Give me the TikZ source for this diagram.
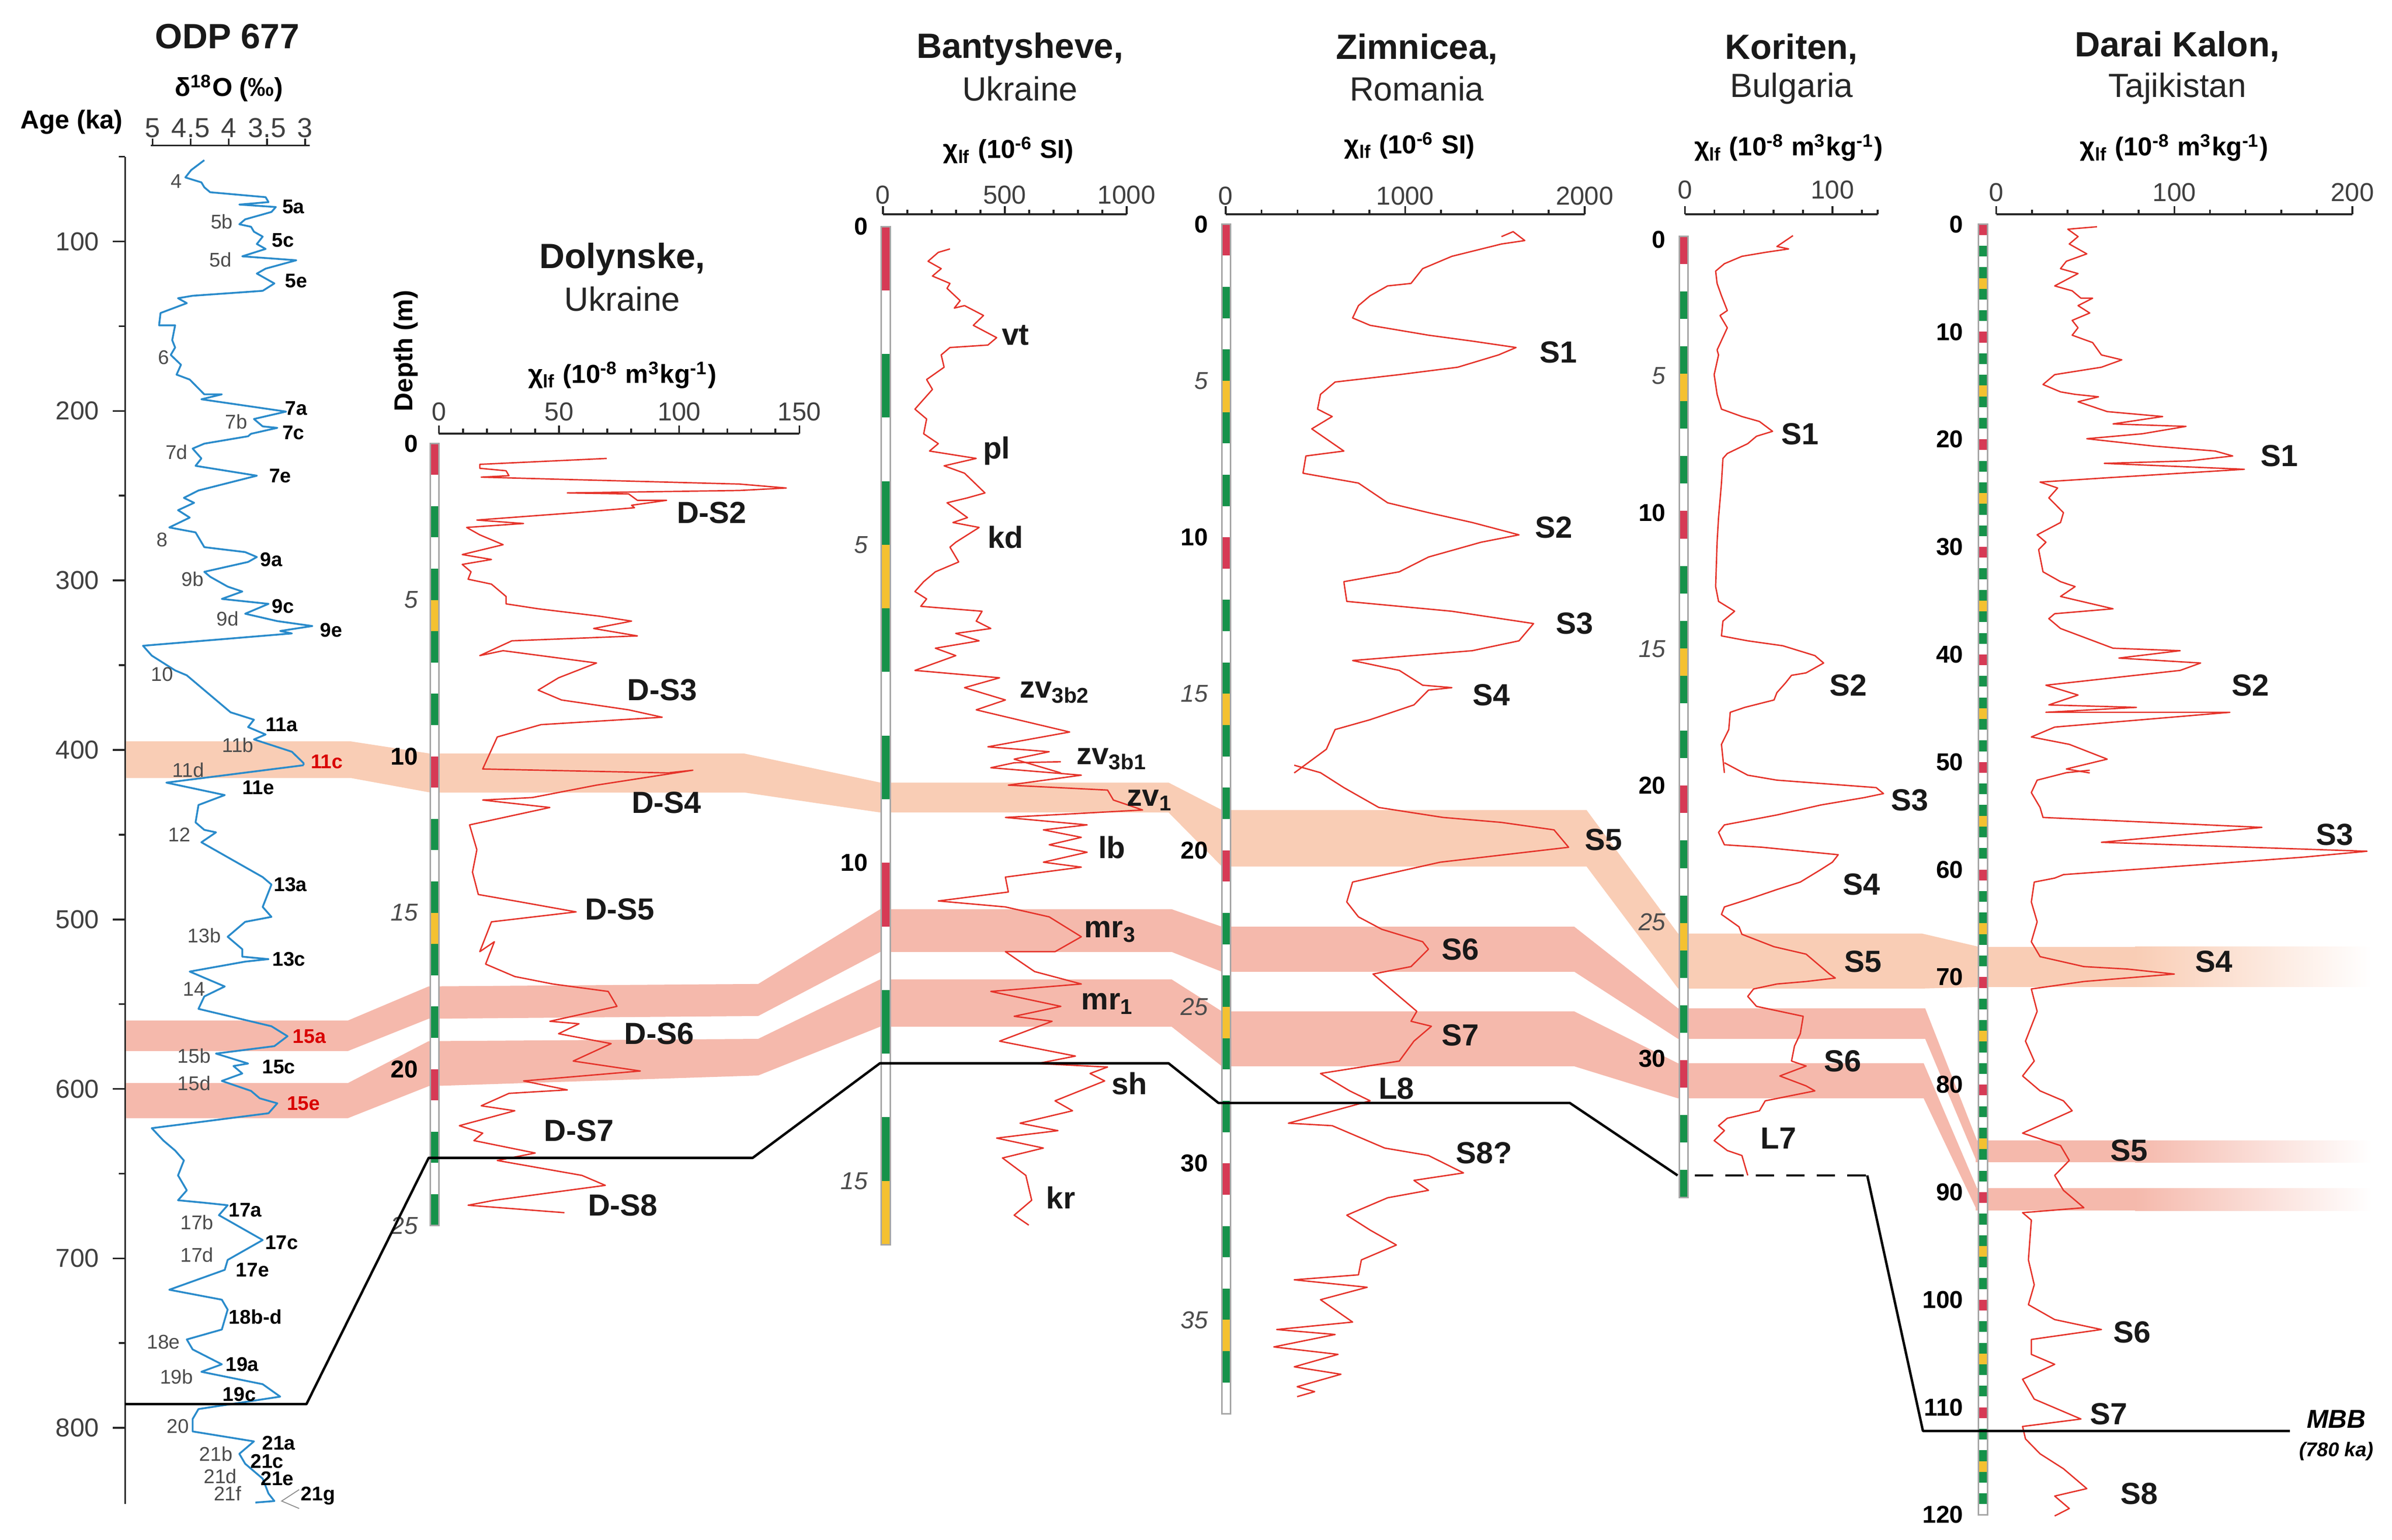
\documentclass[tikz,border=0pt]{standalone}
\usepackage{fontspec}
\setmainfont{Liberation Sans}
\definecolor{colR}{HTML}{D63A55}
\definecolor{colG}{HTML}{16924A}
\definecolor{colY}{HTML}{F4C131}
\definecolor{bandA}{HTML}{F9CDB5}
\definecolor{bandB}{HTML}{F5B9AC}
\definecolor{curveR}{HTML}{E5332A}
\definecolor{curveB}{HTML}{2A8BCB}
\newcommand\stratcol[5]{% xleft, width, ytop, per unit, N
  \foreach \i in {1,...,#5}{%
    \pgfmathtruncatemacro\m{mod(\i-1,10)}%
    \edef\cc{\ifcase\m colR\or white\or colG\or white\or colG\or colY\or colG\or white\or colG\or white\fi}%
    \fill[\cc] (#1,{#3+(\i-1)*#4}) rectangle ({#1+#2},{#3+\i*#4});}
  \draw[black!35,line width=0.5pt] (#1,#3) rectangle ({#1+#2},{#3+#5*#4});}
\begin{document}
\begin{tikzpicture}[x=0.5pt,y=-0.5pt,
  ttl/.style={font=\fontsize{11.5}{13}\selectfont\bfseries,text=black!90},
  sub/.style={font=\fontsize{11}{13}\selectfont,text=black!85},
  unit/.style={font=\fontsize{8.5}{10}\selectfont\bfseries},
  tk/.style={font=\fontsize{8.5}{10}\selectfont,text=black!75},
  dep/.style={font=\fontsize{8}{10}\selectfont\bfseries,anchor=east},
  depi/.style={font=\fontsize{8}{10}\selectfont\itshape,anchor=east,text=black!70},
  sl/.style={font=\fontsize{10}{12}\selectfont\bfseries,text=black!90},
  st/.style={font=\fontsize{6.5}{8}\selectfont,text=black!70},
  stb/.style={font=\fontsize{6.5}{8}\selectfont\bfseries},
  stbr/.style={font=\fontsize{6.5}{8}\selectfont\bfseries,text=red!85!black},
  rc/.style={draw=curveR,line width=0.45pt,line join=round},
  bc/.style={draw=curveB,line width=0.6pt,line join=round},
  ax/.style={draw=black!85,line width=0.6pt},
  mbb/.style={draw=black,line width=0.8pt}]
\useasboundingbox[fill=white] (0,0) rectangle (1568,1009.5);

% ---------------- bands ----------------
\fill[bandA] (82,486)--(230,486)--(282,494)--(488,494)--(577,513)--(766,513)--(801,531)--(1040,531)--(1100,612)--(1260,612)--(1297,620.6)--(1297,647)--(1260,648)--(1100,648)--(1040,568)--(801,568)--(766,532.6)--(577,532.6)--(488,519.5)--(282,519.5)--(230,510)--(82,510)--cycle;
\fill[bandA] (1296,620.6) rectangle (1400,647);
\shade[left color=bandA,right color=white] (1399.5,620.6) rectangle (1555,647);
\fill[bandB] (82,669)--(228,669)--(281,646.6)--(497,645)--(577,596)--(768,596)--(801,607.5)--(1032,607.5)--(1100,661)--(1262,661)--(1296,747.7)--(1296,762)--(1262,681)--(1100,681)--(1032,637)--(801,637)--(768,624)--(577,624)--(497,666)--(281,667.8)--(228,689)--(82,689)--cycle;
\fill[bandB] (1295,747.7) rectangle (1400,762);
\shade[left color=bandB,right color=white] (1399.5,747.7) rectangle (1555,762);
\fill[bandB] (82,710)--(228,710)--(281,682.5)--(497,681)--(577,642)--(768,642)--(801,663)--(1032,663)--(1100,697)--(1261,697)--(1296,779)--(1296,793.6)--(1261,720)--(1100,720)--(1032,699)--(801,699)--(768,673)--(577,673)--(497,705)--(281,712)--(228,733)--(82,733)--cycle;
\fill[bandB] (1295,779) rectangle (1400,793.6);
\shade[left color=bandB,right color=white] (1399.5,779) rectangle (1555,793.6);

% ---------------- strat columns ----------------
\stratcol{282}{5.8}{290.8}{20.5}{25}
\stratcol{577.7}{5.8}{148.6}{41.7}{16}
\stratcol{800.9}{5.8}{147}{20.52}{38}
\stratcol{1100.7}{5.8}{155}{18.0}{35}
\stratcol{1297}{5.8}{147}{7.05}{120}

% depth labels
\node[rotate=90,unit] (dlab) at (266,230) {Depth (m)};
\foreach \d in {0,10,20} \node[dep] (dd\d) at (281,{290.8+20.5*\d}) {\d};
\foreach \d in {5,15,25} \node[depi] (dd\d) at (281,{290.8+20.5*\d}) {\d};
\foreach \d in {0,10} \node[dep] (db\d) at (576,{148.6+41.7*\d}) {\d};
\foreach \d in {5,15} \node[depi] (db\d) at (576,{148.6+41.7*\d}) {\d};
\foreach \d in {0,10,20,30} \node[dep] (dz\d) at (799,{147+20.52*\d}) {\d};
\foreach \d in {5,15,25,35} \node[depi] (dz\d) at (799,{147+20.52*\d}) {\d};
\foreach \d in {0,10,20,30} \node[dep] (dk\d) at (1099,{157+17.9*\d}) {\d};
\foreach \d in {5,15,25} \node[depi] (dk\d) at (1099,{157+17.9*\d}) {\d};
\foreach \d in {0,10,...,120} \node[dep] (dr\d) at (1294,{147+7.05*\d}) {\d};

% ---------------- ODP 677 axes ----------------
\node[ttl] (t1) at (149,24) {ODP 677};
\node[unit] (u1) at (150,58) {δ\textsuperscript{18}O (‰)};
\node[unit] (agel) at (47,80) {Age (ka)};
\draw[ax] (99,95.3)--(203,95.3);
\foreach \x/\l in {100/5,125/4.5,150/4,175/3.5,200/3} {\draw[ax] (\x,95.3)--(\x,91); \node[tk,font=\fontsize{9}{10}\selectfont] (o\x) at (\x,84) {\l};}
\draw[ax] (82,103)--(82,985.7);
\foreach \a in {100,200,...,800} {\draw[ax] (82,{47.2+1.111*\a})--(74,{47.2+1.111*\a}); \node[tk,anchor=east] (ag\a) at (72,{47.2+1.111*\a}) {\a};}
\foreach \a in {50,150,...,750} \draw[ax] (82,{47.2+1.111*\a})--(78,{47.2+1.111*\a});

% ODP curve & labels (zoom 1 coordinates)
\begin{scope}[shift={(0,0)},xscale=0.19133,yscale=0.32313]
\draw[bc] plot coordinates {(700,325) (655,345) (635,360) (690,370) (700,380) (720,390) (910,400) (920,410) (820,415) (945,420) (930,430) (840,445) (820,455) (860,460) (870,470) (900,480) (880,495) (910,505) (830,520) (1015,528) (910,545) (880,555) (940,575) (900,590) (660,600) (610,605) (640,615) (550,635) (545,660) (600,660) (590,690) (600,705) (585,720) (620,740) (605,760) (650,770) (700,800) (760,800) (690,810) (980,835) (870,850) (900,865) (950,868) (860,880) (850,885) (700,900) (660,910) (690,930) (670,945) (880,965) (680,995) (630,1010) (665,1020) (610,1035) (650,1050) (580,1070) (670,1080) (700,1110) (840,1120) (880,1130) (850,1140) (700,1160) (720,1170) (780,1190) (830,1200) (760,1215) (920,1225) (840,1245) (950,1260) (1070,1270) (960,1280) (1000,1285) (490,1310) (520,1330) (600,1360) (640,1370) (700,1400) (760,1430) (790,1445) (870,1460) (850,1475) (910,1490) (870,1500) (1000,1525) (1040,1548) (1040,1552)};
\foreach \t/\x/\y in {4/605/368,5b/760/450,5d/755/527,6/560/725,7b/810/855,7d/605/917,8/555/1095,9b/660/1175,9d/780/1255,10/555/1368,11b/815/1512}
  \node[st] (sa\t) at (\x,\y) {\t};
\foreach \t/\x/\y in {5a/1005/420,5c/970/487,5e/1015/570,7a/1015/828,7c/1005/878,7e/960/965,9a/930/1135,9c/970/1230,9e/1135/1278,11a/965/1470}
  \node[stb] (sb\t) at (\x,\y) {\t};
\node[stbr] (s11c) at (1120,1545) {11c};
\end{scope}
\begin{scope}[shift={(0,500)},xscale=0.19133,yscale=0.32589]
\draw[bc] plot coordinates {(1040,5) (570,40) (770,65) (680,85) (670,120) (700,135) (740,140) (690,160) (750,180) (900,230) (930,245) (900,290) (930,310) (840,320) (780,350) (830,375) (830,390) (920,395) (840,400) (650,420) (770,450) (700,470) (680,495) (930,530) (985,550) (940,570) (740,585) (850,605) (800,610) (830,625) (760,640) (860,660) (890,675) (950,685) (920,705) (520,735) (560,760) (600,780) (630,800) (610,830) (640,860) (610,880) (700,885) (780,890) (750,910) (840,940) (900,960) (780,1000) (770,1020) (580,1060) (760,1080) (780,1100) (760,1140) (640,1160) (660,1180) (760,1210) (690,1225) (900,1250) (960,1275) (680,1300) (660,1320) (660,1345) (870,1365) (820,1390) (840,1410) (900,1440) (920,1470) (940,1485) (875,1488)};
\foreach \t/\x/\y in {11d/645/15,12/615/145,13b/700/348,14/665/455,15b/665/590,15d/665/645,17b/675/925,17d/675/990,18e/560/1165,19b/605/1235,20/610/1335,21b/740/1390,21d/755/1435,21f/780/1470}
  \node[st] (sa\t) at (\x,\y) {\t};
\foreach \t/\x/\y in {11e/885/50,13a/995/245,13c/990/395,15c/955/612,17a/840/900,17c/965/965,17e/865/1020,18b-d/875/1115,19a/830/1210,19c/820/1270,21a/955/1368,21c/915/1405,21e/950/1440,21g/1090/1475}
  \node[stb] (sb\t) at (\x,\y) {\t};
\node[stbr] (s15a) at (1060,550) {15a};
\node[stbr] (s15e) at (1040,685) {15e};
\draw[black!45,line width=0.3pt] (1025,1462)--(965,1485)--(1025,1500);
\end{scope}

% ---------------- Dolynske ----------------
\node[ttl] (t2) at (408,170) {Dolynske,};
\node[sub] (c2) at (408,196) {Ukraine};
\node[unit] (u2) at (408,246) {χ\textsubscript{lf} (10\textsuperscript{-8} m\textsuperscript{3}kg\textsuperscript{-1})};
\draw[ax] (287.7,284.3)--(524,284.3);
\foreach \v in {0,10,...,150} \draw[ax] ({287.7+1.5753*\v},284.3)--({287.7+1.5753*\v},281);
\foreach \v in {0,50,100,150} {\draw[ax] ({287.7+1.5753*\v},284.3)--({287.7+1.5753*\v},279); \node[tk] (dx\v) at ({287.7+1.5753*\v},270) {\v};}
\begin{scope}[shift={(266.667,0)},xscale=0.19133,yscale=0.32313]
\draw[rc] plot coordinates {(685,930) (250,942) (250,950) (340,955) (350,965) (255,968) (1140,982) (1300,990) (1140,995) (550,1000) (760,1002) (790,1015) (890,1015) (770,1025) (780,1030) (580,1040) (240,1055) (400,1062) (205,1070) (250,1085) (330,1105) (190,1125) (290,1135) (190,1145) (220,1160) (210,1175) (290,1185) (340,1210) (340,1225) (450,1235) (660,1250) (770,1260) (640,1275) (790,1290) (360,1300) (250,1330) (330,1320) (650,1345) (520,1375) (450,1400) (530,1420) (760,1440) (875,1455) (460,1470) (310,1495) (260,1560) (900,1568)};
\node[sl] (ds2) at (1045,1040) {D-S2};
\node[sl] (ds3) at (875,1400) {D-S3};
\end{scope}
\begin{scope}[shift={(266.667,500)},xscale=0.19133,yscale=0.32589]
\draw[rc] plot coordinates {(900,20) (980,15) (650,45) (430,70) (260,75) (490,90) (215,125) (240,175) (225,220) (245,265) (390,280) (580,300) (290,320) (250,380) (300,360) (270,405) (370,430) (500,445) (690,460) (720,490) (490,520) (590,525) (520,545) (700,565) (570,600) (800,620) (400,640) (550,658) (350,665) (255,690) (370,700) (180,730) (260,745) (230,760) (440,785) (310,800) (600,830) (680,850) (300,880) (210,890) (540,905)};
\node[sl] (ds4) at (890,80) {D-S4};
\node[sl] (ds5) at (730,295) {D-S5};
\node[sl] (ds6) at (865,545) {D-S6};
\node[sl] (ds7) at (590,740) {D-S7};
\node[sl] (ds8) at (740,890) {D-S8};
\end{scope}

% ---------------- Bantysheve ----------------
\begin{scope}[shift={(550,0)},xscale=0.19133,yscale=0.32313]
\node[ttl] (t3) at (620,100) {Bantysheve,};
\node[sub] (c3) at (620,180) {Ukraine};
\node[unit] (u3) at (580,305) {χ\textsubscript{lf} (10\textsuperscript{-6} SI)};
\draw[ax] (150,435)--(985,435);
\foreach \v in {0,100,...,1000} \draw[ax] ({150+0.835*\v},435)--({150+0.835*\v},425);
\foreach \v in {0,500,1000} {\draw[ax] ({150+0.835*\v},435)--({150+0.835*\v},418); \node[tk] (bx\v) at ({150+0.835*\v},395) {\v};}
\draw[rc] plot coordinates {(380,505) (340,512) (305,530) (350,545) (320,560) (380,575) (370,585) (415,610) (395,625) (430,620) (495,640) (460,660) (540,685) (510,700) (380,705) (350,720) (360,745) (300,770) (320,790) (260,830) (300,850) (290,880) (340,900) (310,915) (470,930) (360,945) (430,960) (500,1000) (440,1010) (370,1020) (440,1050) (390,1060) (480,1070) (400,1100) (380,1110) (410,1140) (330,1160) (290,1180) (260,1200) (300,1215) (280,1230) (490,1240) (470,1260) (520,1275) (400,1285) (480,1300) (330,1315) (400,1330) (260,1360) (550,1375) (430,1395) (570,1420) (470,1440) (790,1485) (650,1500) (510,1515) (720,1525) (600,1540) (760,1568)};
\node[sl] (lvt) at (605,680) {vt};
\node[sl] (lpl) at (540,915) {pl};
\node[sl] (lkd) at (570,1090) {kd};
\node[sl] (lzv2) at (740,1405) {zv\textsubscript{3b2}};
\node[sl] (lzv1) at (935,1540) {zv\textsubscript{3b1}};
\end{scope}
\begin{scope}[shift={(550,500)},xscale=0.19133,yscale=0.32589]
\draw[rc] plot coordinates {(760,-2) (600,0) (520,10) (830,25) (580,45) (920,55) (940,75) (1040,95) (570,110) (850,125) (700,135) (830,150) (720,165) (850,180) (700,200) (830,210) (570,230) (580,260) (340,278) (570,290) (720,310) (830,350) (740,380) (570,380) (670,420) (830,445) (520,460) (760,490) (600,510) (730,520) (550,560) (810,590) (680,605) (920,612) (860,625) (910,640) (740,680) (800,700) (620,725) (750,740) (540,755) (700,775) (560,795) (640,830) (660,880) (600,910) (650,930)};
\node[sl] (lzvi) at (1065,75) {zv\textsubscript{1}};
\node[sl] (llb) at (935,170) {lb};
\node[sl] (lmr3) at (930,340) {mr\textsubscript{3}};
\node[sl] (lmr1) at (920,485) {mr\textsubscript{1}};
\node[sl] (lsh) at (995,645) {sh};
\node[sl] (lkr) at (760,875) {kr};
\end{scope}

% ---------------- Zimnicea ----------------
\begin{scope}[shift={(783.333,0)},xscale=0.19133,yscale=0.32313]
\node[ttl] (t4) at (760,100) {Zimnicea,};
\node[sub] (c4) at (760,180) {Romania};
\node[unit] (u4) at (735,295) {χ\textsubscript{lf} (10\textsuperscript{-6} SI)};
\draw[ax] (105,435)--(1335,435);
\foreach \v in {0,200,...,2000} \draw[ax] ({105+0.615*\v},435)--({105+0.615*\v},425);
\foreach \v in {0,1000,2000} {\draw[ax] ({105+0.615*\v},435)--({105+0.615*\v},418); \node[tk] (zx\v) at ({105+0.615*\v},398) {\v};}
\draw[rc] plot coordinates {(1050,480) (1090,470) (1130,488) (1050,495) (880,520) (780,545) (740,575) (660,580) (600,600) (560,620) (540,645) (600,660) (800,680) (950,692) (1100,705) (1040,720) (900,745) (700,760) (480,775) (430,800) (420,830) (470,845) (400,870) (510,915) (380,925) (370,960) (560,980) (660,1020) (800,1040) (950,1060) (1110,1085) (980,1100) (800,1130) (700,1160) (510,1180) (520,1220) (880,1240) (1160,1265) (1110,1300) (950,1320) (540,1340) (700,1360) (780,1390) (880,1395) (800,1400) (750,1430) (600,1460) (480,1480) (450,1520) (340,1568)};
\node[sl] (zs1) at (1245,715) {S1};
\node[sl] (zs2) at (1230,1070) {S2};
\node[sl] (zs3) at (1300,1265) {S3};
\node[sl] (zs4) at (1015,1410) {S4};
\end{scope}
\begin{scope}[shift={(783.333,500)},xscale=0.19133,yscale=0.32589]
\draw[rc] plot coordinates {(340,5) (430,20) (510,50) (630,90) (850,110) (1050,120) (1230,135) (1280,170) (1060,185) (840,200) (650,225) (540,240) (520,280) (560,310) (640,335) (780,360) (800,375) (740,410) (610,425) (700,470) (760,500) (740,520) (810,530) (750,560) (700,600) (430,625) (530,660) (600,680) (320,725) (470,730) (550,750) (650,775) (800,790) (920,825) (750,840) (800,860) (660,875) (520,910) (600,940) (690,970) (570,1000) (560,1030) (340,1040) (590,1055) (430,1080) (540,1125) (280,1140) (480,1150) (270,1175) (490,1190) (340,1215) (500,1230) (350,1255) (410,1265) (350,1275)};
\node[sl] (zs5) at (1400,155) {S5};
\node[sl] (zs6) at (910,375) {S6};
\node[sl] (zs7) at (910,548) {S7};
\node[sl] (zl8) at (690,655) {L8};
\node[sl] (zs8) at (990,785) {S8?};
\end{scope}

% ---------------- Koriten ----------------
\begin{scope}[shift={(1050,0)},xscale=0.19133,yscale=0.32313]
\node[ttl] (t5) at (650,100) {Koriten,};
\node[sub] (c5) at (650,180) {Bulgaria};
\node[unit] (u5) at (640,300) {χ\textsubscript{lf} (10\textsuperscript{-8} m\textsuperscript{3}kg\textsuperscript{-1})};
\draw[ax] (285,435)--(945,435);
\foreach \v in {0,20,...,120} \draw[ax] ({285+5.05*\v},435)--({285+5.05*\v},425);
\draw[ax] (945,435)--(945,425);
\foreach \v in {0,100} {\draw[ax] ({285+5.05*\v},435)--({285+5.05*\v},418); \node[tk] (kx\v) at ({285+5.05*\v},385) {\v};}
\draw[rc] plot coordinates {(655,478) (600,500) (640,505) (560,512) (480,520) (420,535) (390,550) (395,575) (410,600) (430,630) (405,640) (430,665) (395,710) (400,720) (385,760) (395,800) (410,830) (480,845) (540,855) (585,875) (530,885) (500,900) (430,920) (415,930) (410,980) (400,1050) (395,1100) (390,1190) (400,1220) (455,1240) (415,1260) (410,1290) (500,1300) (620,1310) (730,1330) (760,1345) (700,1365) (650,1370) (630,1385) (600,1405) (590,1420) (490,1435) (440,1445) (435,1480) (410,1510) (420,1568)};
\node[sl] (ks1) at (680,880) {S1};
\node[sl] (ks2) at (845,1390) {S2};
\end{scope}
\begin{scope}[shift={(1050,500)},xscale=0.19133,yscale=0.32589]
\draw[rc] plot coordinates {(420,0) (500,25) (600,35) (940,50) (965,62) (900,70) (750,85) (600,105) (420,125) (400,140) (420,165) (550,170) (810,185) (790,200) (750,215) (680,240) (600,255) (500,275) (420,290) (410,305) (470,330) (480,345) (590,370) (700,385) (740,405) (780,425) (800,433) (700,440) (600,445) (520,455) (500,470) (530,490) (690,510) (680,545) (660,570) (650,600) (700,610) (610,630) (700,650) (730,660) (560,680) (540,700) (430,715) (400,730) (420,740) (385,760) (430,780) (480,790) (490,810) (500,830)};
\node[sl] (ks3) at (1055,75) {S3};
\node[sl] (ks4) at (890,245) {S4};
\node[sl] (ks5) at (895,400) {S5};
\node[sl] (ks6) at (825,600) {S6};
\node[sl] (kl7) at (605,755) {L7};
\end{scope}

% ---------------- Darai Kalon ----------------
\begin{scope}[shift={(1270.333,0)},xscale=0.19133,yscale=0.32313]
\node[ttl] (t6) at (820,95) {Darai Kalon,};
\node[sub] (c6) at (820,180) {Tajikistan};
\node[unit] (u6) at (810,300) {χ\textsubscript{lf} (10\textsuperscript{-8} m\textsuperscript{3}kg\textsuperscript{-1})};
\draw[ax] (200,435)--(1420,435);
\foreach \v in {0,20,...,200} \draw[ax] ({200+6.1*\v},435)--({200+6.1*\v},425);
\foreach \v in {0,100,200} {\draw[ax] ({200+6.1*\v},435)--({200+6.1*\v},418); \node[tk] (rx\v) at ({200+6.1*\v},390) {\v};}
\draw[rc] plot coordinates {(545,460) (445,465) (480,480) (450,495) (510,515) (440,530) (420,545) (480,555) (400,580) (460,590) (490,605) (530,605) (480,620) (520,635) (460,650) (480,665) (460,680) (530,695) (560,720) (630,730) (560,745) (400,760) (360,780) (420,795) (470,800) (550,805) (480,815) (580,835) (770,845) (600,860) (850,865) (700,880) (510,890) (740,905) (950,915) (1010,925) (860,935) (570,940) (1050,952) (560,970) (350,978) (410,990) (380,1010) (430,1040) (420,1060) (340,1085) (370,1100) (345,1115) (360,1160) (420,1180) (470,1190) (420,1210) (600,1235) (400,1245) (380,1255) (420,1275) (600,1315) (830,1320) (620,1335) (900,1345) (830,1360) (370,1390) (480,1410) (380,1430) (680,1435) (370,1445) (1000,1445) (700,1460) (400,1475) (320,1495) (450,1510) (580,1540) (440,1560) (520,1568)};
\node[sl] (rs1) at (1170,925) {S1};
\node[sl] (rs2) at (1070,1390) {S2};
\end{scope}
\begin{scope}[shift={(1270.333,500)},xscale=0.19133,yscale=0.32589]
\draw[rc] plot coordinates {(520,15) (440,20) (340,35) (320,60) (350,90) (360,110) (1110,130) (560,160) (1470,178) (1250,190) (900,205) (430,225) (400,232) (330,240) (320,280) (340,320) (320,360) (350,390) (500,410) (650,415) (810,425) (500,440) (320,455) (340,500) (300,560) (330,600) (290,630) (350,660) (430,680) (460,700) (290,745) (420,770) (450,800) (400,830) (430,860) (500,895) (290,905) (320,920) (310,1000) (330,1050) (310,1090) (400,1120) (560,1140) (320,1160) (320,1190) (400,1210) (290,1240) (330,1280) (490,1320) (290,1335) (300,1360) (350,1390) (430,1420) (510,1460) (400,1475) (450,1500) (400,1515)};
\node[sl] (rs3) at (1360,145) {S3};
\node[sl] (rs4) at (945,400) {S4};
\node[sl] (rs5) at (655,780) {S5};
\node[sl] (rs6) at (665,1145) {S6};
\node[sl] (rs7) at (585,1310) {S7};
\node[sl] (rs8) at (690,1470) {S8};
\node[font=\fontsize{8.5}{10}\selectfont\bfseries\itshape] (mbbt) at (1365,1320) {MBB};
\node[font=\fontsize{6.5}{8}\selectfont\bfseries\itshape] (mbbk) at (1365,1385) {(780 ka)};
\end{scope}

% ---------------- MBB line ----------------
\coordinate (m1) at (82,920.4);
\coordinate (m2) at (200.9,920.4);
\coordinate (m3) at (281,759);
\coordinate (m4) at (493.4,759);
\coordinate (m5) at (576.8,697);
\coordinate (m6) at (766,697);
\coordinate (m7) at (798.7,723);
\coordinate (m8) at (1029,723);
\coordinate (m9) at (1099.7,770.5);
\coordinate (m10) at (1111,770.5);
\coordinate (m11) at (1224,770.5);
\coordinate (m12) at (1260.5,938);
\coordinate (m13) at (1501,938);
\draw[mbb,line join=round] (m1)--(m2)--(m3)--(m4)--(m5)--(m6)--(m7)--(m8)--(m9);
\draw[mbb,dash pattern=on 6pt off 4pt] (m10)--(m11);
\draw[mbb,line join=round] (m11)--(m12)--(m13);
\end{tikzpicture}
\end{document}
